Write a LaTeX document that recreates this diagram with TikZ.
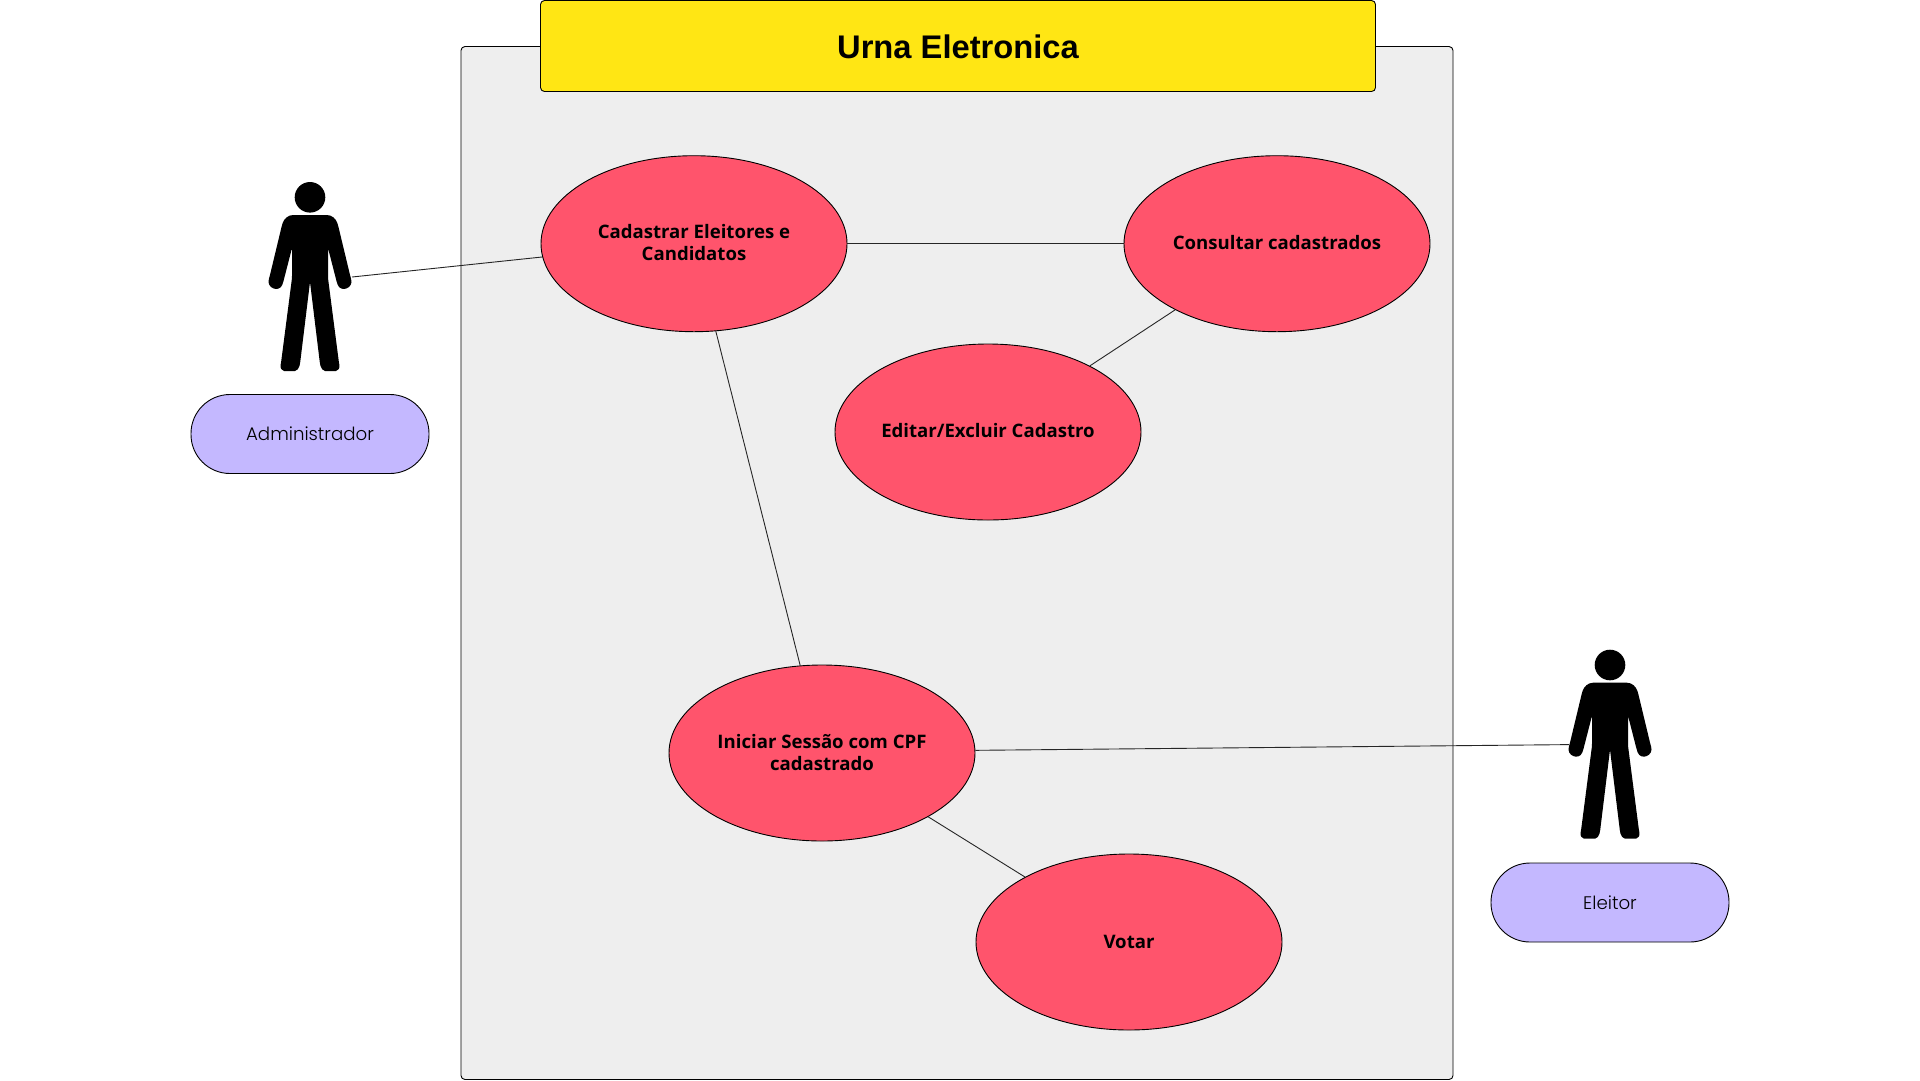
\documentclass[tikz,border=0pt]{standalone}
\usepackage{fontspec}
\usetikzlibrary{shapes.geometric}
\setmainfont{Open Sans}
\newfontfamily\titlefont{Liberation Sans}
\newfontfamily\pillfont{Poppins Light}
\definecolor{panelgray}{HTML}{EEEEEE}
\definecolor{titleyellow}{HTML}{FFE614}
\definecolor{casered}{HTML}{FF546C}
\definecolor{pillviolet}{HTML}{C4B8FF}
\tikzset{
  x=1pt,y=-1pt,
  casenode/.style={draw=black,line width=0.9pt,fill=casered,ellipse,minimum width=306pt,minimum height=176pt,inner sep=0pt,align=center,font=\fontsize{18.6pt}{22pt}\selectfont\bfseries},
  pillnode/.style={draw=black,line width=0.9pt,fill=pillviolet,rounded corners=39pt,minimum width=238pt,minimum height=79pt,inner sep=0pt,font=\pillfont\fontsize{18.2pt}{24pt}\selectfont},
  link/.style={draw=black!85,line width=0.9pt},
  figure/.pic={
    \fill[black] (80,37.3) circle (15.3);
    \fill[black,rounded corners=2pt] (65,55) .. controls (58,55) and (54,59) .. (52,65)
      -- (39.5,117) .. controls (36,128) and (49,133) .. (53,123)
      -- (62,88) -- (62,118) -- (51,203) .. controls (50,208) and (52,211) .. (56,211)
      -- (63,211) .. controls (67,211) and (69,208) .. (70,204)
      -- (80,122) -- (90,204) .. controls (91,208) and (93,211) .. (97,211)
      -- (104,211) .. controls (108,211) and (110,208) .. (109,203)
      -- (98,118) -- (98,88) -- (107,123) .. controls (111,133) and (124,128) .. (120.5,117)
      -- (108,65) .. controls (106,59) and (102,55) .. (95,55) -- cycle;
  }
}
\begin{document}
\begin{tikzpicture}
\useasboundingbox (0,0) rectangle (1920,1080);
\fill[white] (0,0) rectangle (1920,1080);
\draw[draw=black,fill=panelgray,line width=0.9pt,rounded corners=4pt] (461,46.5) rectangle (1453,1079.5);
\node[draw=black,line width=0.9pt,fill=titleyellow,rounded corners=4pt,minimum width=835pt,minimum height=91pt,inner sep=0pt,text height=30pt,text depth=5.4pt,font=\titlefont\fontsize{32.7pt}{38pt}\selectfont\bfseries] (title) at (958,46) {Urna Eletronica};
\pic at (230,160) {figure};
\pic at (1530,627.7) {figure};
\coordinate (adminhand) at (352,277);
\coordinate (voterhand) at (1569,744.6);
\node[casenode] (cad) at (694,243.7) {Cadastrar Eleitores e\\Candidatos\rule[-2pt]{0pt}{0pt}};
\node[casenode] (con) at (1277,243.7) {Consultar cadastrados\rule[-2pt]{0pt}{0pt}};
\node[casenode] (edi) at (988,432) {Editar/Excluir Cadastro\rule[-4pt]{0pt}{0pt}};
\node[casenode] (ini) at (822,753) {Iniciar Sessão com CPF\\cadastrado};
\node[casenode] (vot) at (1129,942) {Votar};
\node[pillnode] (admin) at (310,434) {Administrador};
\node[pillnode] (voter) at (1610,902.5) {Eleitor};
\draw[link] (adminhand) -- (cad.185.7);
\draw[link] (cad.east) -- (con.west);
\draw[link] (con.213.4) -- (edi.33.4);
\draw[link] (cad.-76.4) -- (ini.104);
\draw[link] (ini.1) -- (voterhand);
\draw[link] (ini.-31.4) -- (vot.148.6);
\end{tikzpicture}
\end{document}
